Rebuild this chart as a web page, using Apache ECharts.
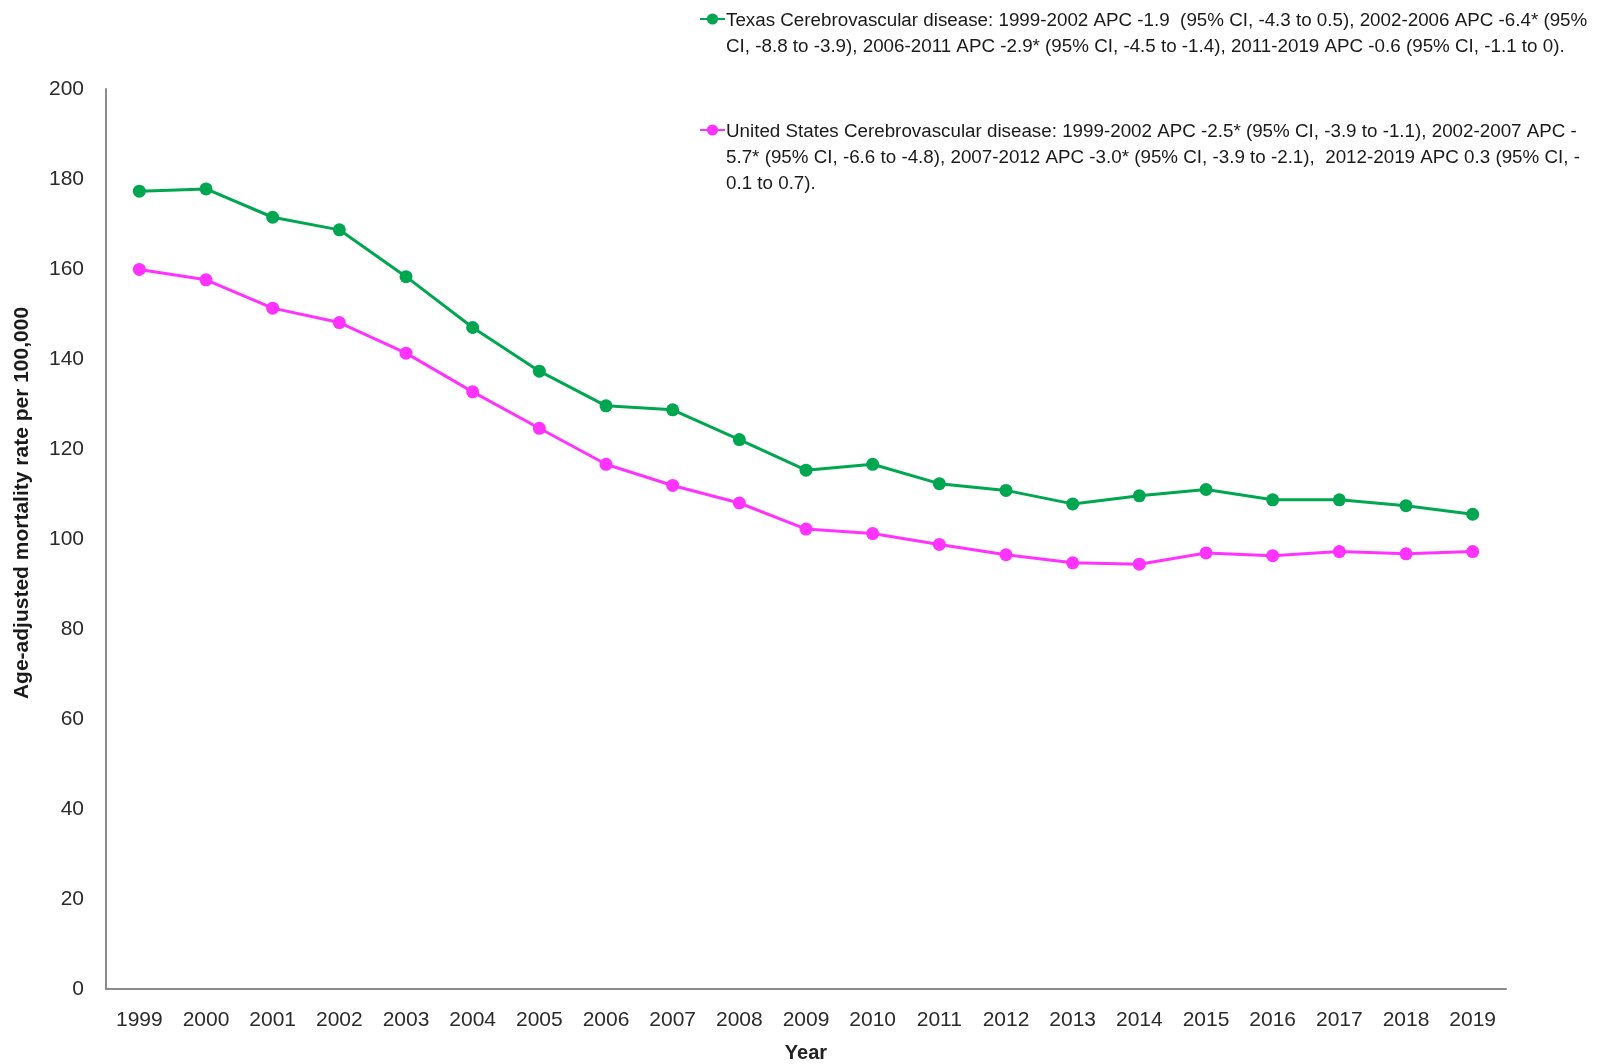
<!DOCTYPE html>
<html>
<head>
<meta charset="utf-8">
<script src="https://cdn.jsdelivr.net/npm/echarts@6/dist/echarts.min.js"></script>
<style>
html,body{margin:0;padding:0;background:#fff;}
#chart{width:1598px;height:1064px;}
</style>
</head>
<body>
<div id="chart"></div>
<script>
const years = ['1999','2000','2001','2002','2003','2004','2005','2006','2007','2008','2009','2010','2011','2012','2013','2014','2015','2016','2017','2018','2019'];
const texas = [177.3,177.8,171.5,168.7,158.3,147.0,137.3,129.6,128.7,122.1,115.3,116.6,112.3,110.8,107.8,109.6,111.0,108.7,108.7,107.4,105.5];
const us = [159.9,157.6,151.3,148.1,141.3,132.7,124.6,116.6,111.9,108.0,102.2,101.2,98.8,96.5,94.7,94.4,96.9,96.3,97.2,96.7,97.2];
const texasName = 'Texas Cerebrovascular disease';
const usName = 'United States Cerebrovascular disease';
const texasLegend = 'Texas Cerebrovascular disease: 1999-2002 APC -1.9  (95% CI, -4.3 to 0.5), 2002-2006 APC -6.4* (95%\nCI, -8.8 to -3.9), 2006-2011 APC -2.9* (95% CI, -4.5 to -1.4), 2011-2019 APC -0.6 (95% CI, -1.1 to 0).';
const usLegend = 'United States Cerebrovascular disease: 1999-2002 APC -2.5* (95% CI, -3.9 to -1.1), 2002-2007 APC -\n5.7* (95% CI, -6.6 to -4.8), 2007-2012 APC -3.0* (95% CI, -3.9 to -2.1),  2012-2019 APC 0.3 (95% CI, -\n0.1 to 0.7).';
const yTicks = {min:0, max:200, interval:20};

const GREEN = '#00A650';
const MAGENTA = '#FF33FF';
const FONT = 'Liberation Sans';
const LH = 26;
const LEGEND_FONT = '18.8px "Liberation Sans"';

const chart = echarts.init(document.getElementById('chart'), null, {renderer:'canvas'});
chart.setOption({
  animation:false,
  backgroundColor:'#fff',
  grid:{left:106, right:92, top:89, bottom:75, containLabel:false, outerBoundsMode:'none'},
  legend:[
    {
      data:[texasName], left:699, top:12, padding:0, itemWidth:25, itemHeight:14, itemGap:0,
      selectedMode:false, formatter:function(){return '';}
    },
    {
      data:[usName], left:699, top:123, padding:0, itemWidth:25, itemHeight:14, itemGap:0,
      selectedMode:false, formatter:function(){return '';}
    }
  ],
  graphic:[
    {type:'text', left:726, top:8, style:{text:texasLegend, font:LEGEND_FONT, fill:'#1a1a1a', lineHeight:LH}},
    {type:'text', left:726, top:119, style:{text:usLegend, font:LEGEND_FONT, fill:'#1a1a1a', lineHeight:LH}}
  ],
  xAxis:{
    type:'category', data:years, boundaryGap:true,
    axisLine:{lineStyle:{color:'#8c8c8c', width:2}},
    axisTick:{show:false},
    axisLabel:{fontFamily:FONT, fontSize:21, color:'#2b2b2b', margin:21},
    name:'Year', nameLocation:'middle', nameGap:54,
    nameTextStyle:{fontFamily:FONT, fontSize:20, fontWeight:'bold', color:'#222'}
  },
  yAxis:{
    type:'value', min:yTicks.min, max:yTicks.max, interval:yTicks.interval,
    axisLine:{show:true, lineStyle:{color:'#8c8c8c', width:2}},
    axisTick:{show:false},
    splitLine:{show:false},
    axisLabel:{fontFamily:FONT, fontSize:21, color:'#2b2b2b', margin:22},
    name:'Age-adjusted mortality rate per 100,000', nameLocation:'middle', nameGap:73, nameRotate:90,
    nameTextStyle:{fontFamily:FONT, fontSize:21, fontWeight:'bold', color:'#1a1a1a', padding:[0,0,0,72]}
  },
  series:[
    {
      name:texasName, type:'line', data:texas,
      symbol:'circle', symbolSize:13,
      lineStyle:{color:GREEN, width:3},
      itemStyle:{color:GREEN}
    },
    {
      name:usName, type:'line', data:us,
      symbol:'circle', symbolSize:13,
      lineStyle:{color:MAGENTA, width:3},
      itemStyle:{color:MAGENTA}
    }
  ]
});
</script>
</body>
</html>
